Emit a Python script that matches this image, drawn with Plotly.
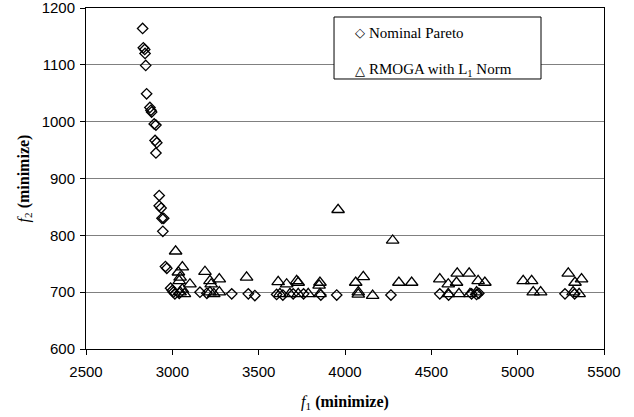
import plotly.graph_objects as go

# Nominal Pareto (diamonds)
nom_f1 = [2828, 2832, 2840, 2842, 2846, 2851, 2870, 2876, 2880, 2895, 2905, 2900, 2910,
          2905, 2924, 2924, 2935, 2940, 2950, 2945, 2960, 2968, 2990, 3000, 3006, 3015,
          3040, 3160, 3200, 3344, 3440, 3478, 3604, 3640, 3700, 3760, 3860, 3952, 4266,
          4549, 4600, 4733, 4762, 4775, 5274, 5330]
nom_f2 = [1164, 1130, 1127, 1120, 1099, 1049, 1025, 1020, 1017, 996, 994, 967, 963,
          945, 870, 852, 848, 830, 830, 807, 745, 742, 707, 703, 700, 697,
          698, 700, 698, 697, 697, 694, 696, 695, 697, 697, 695, 695, 695,
          697, 695, 697, 696, 698, 697, 697]

# RMOGA with L1 Norm (triangles)
rm_f1 = [3019, 3058, 3035, 3045, 3040, 3058, 3045, 3070, 3102, 3189, 3218, 3225, 3272,
         3218, 3240, 3272, 3430, 3613, 3662, 3720, 3729, 3623, 3681, 3729, 3787, 3855,
         3855, 3850, 3960, 4062, 4106, 4077, 4077, 4160, 4276, 4312, 4386, 4549, 4598,
         4650, 4719, 4646, 4771, 4810, 4598, 4660, 4724, 4762, 5032, 5081, 5090, 5133,
         5293, 5332, 5370, 5321, 5356]
rm_f2 = [772, 744, 735, 726, 720, 705, 700, 697, 714, 736, 720, 714, 723,
         700, 697, 700, 726, 718, 714, 720, 717, 697, 697, 697, 697, 697,
         717, 712, 845, 717, 727, 700, 696, 694, 791, 717, 717, 723, 714,
         733, 733, 717, 720, 717, 697, 697, 697, 700, 720, 720, 700, 700,
         733, 717, 723, 700, 697]

x_ticks = [2500, 3000, 3500, 4000, 4500, 5000, 5500]
y_ticks = [600, 700, 800, 900, 1000, 1100, 1200]

legend_symbols = ["\u25C7", "\u25B3"]
legend_labels = ["Nominal Pareto", "RMOGA with L<sub>1</sub> Norm"]

serif = "Liberation Serif"
sans = "Liberation Sans"

fig = go.Figure()
fig.add_trace(go.Scatter(
    x=nom_f1, y=nom_f2, mode="markers", name="Nominal Pareto",
    marker=dict(symbol="diamond-open", size=8, color="black", line=dict(width=1.3, color="black")),
))
fig.add_trace(go.Scatter(
    x=rm_f1, y=rm_f2, mode="markers", name="RMOGA with L1 Norm",
    marker=dict(symbol="triangle-up-open", size=11, color="black", line=dict(width=1.3, color="black")),
))

# legend box drawn as shape + text annotations
fig.add_shape(type="rect", xref="paper", yref="paper",
              x0=0.4788, x1=0.8784, y0=0.7918, y1=0.9736,
              line=dict(color="black", width=1), fillcolor="white", layer="above")
for sym, lbl, yy in zip(legend_symbols, legend_labels, [0.927, 0.817]):
    fig.add_annotation(xref="paper", yref="paper", x=0.5290, y=yy,
                       xanchor="center", yanchor="middle", showarrow=False,
                       text=sym, font=dict(family="DejaVu Sans", size=13, color="black"))
    fig.add_annotation(xref="paper", yref="paper", x=0.5425, y=yy,
                       xanchor="left", yanchor="middle", showarrow=False,
                       text=lbl, font=dict(family=serif, size=15, color="black"))

fig.update_layout(
    width=634, height=417,
    margin=dict(l=86, r=30, t=8, b=68),
    plot_bgcolor="white", paper_bgcolor="white",
    showlegend=False,
    xaxis=dict(
        range=[2500, 5500], tickvals=x_ticks, ticktext=[str(v) for v in x_ticks],
        showgrid=False, zeroline=False, automargin=False, ticklabeloverflow="allow",
        showline=True, linecolor="black", linewidth=1, mirror=True,
        ticks="outside", ticklen=5, tickcolor="black", ticklabelstandoff=4,
        tickfont=dict(family=sans, size=15, color="black"),
        title=dict(text="<i>f</i><sub>1</sub> <b>(minimize)</b>",
                   font=dict(family=serif, size=16, color="black"), standoff=16),
    ),
    yaxis=dict(
        range=[600, 1200], tickvals=y_ticks, ticktext=[str(v) for v in y_ticks],
        showgrid=True, gridcolor="#808080", gridwidth=1, zeroline=False,
        automargin=False, ticklabeloverflow="allow",
        showline=True, linecolor="black", linewidth=1, mirror=True,
        ticks="outside", ticklen=5, tickcolor="black", ticklabelstandoff=2,
        tickfont=dict(family=sans, size=15, color="black"),
        title=dict(text="<i>f</i><sub>2</sub> <b>(minimize)</b>",
                   font=dict(family=serif, size=16, color="black"), standoff=8),
    ),
)

fig.write_html("out.html")
